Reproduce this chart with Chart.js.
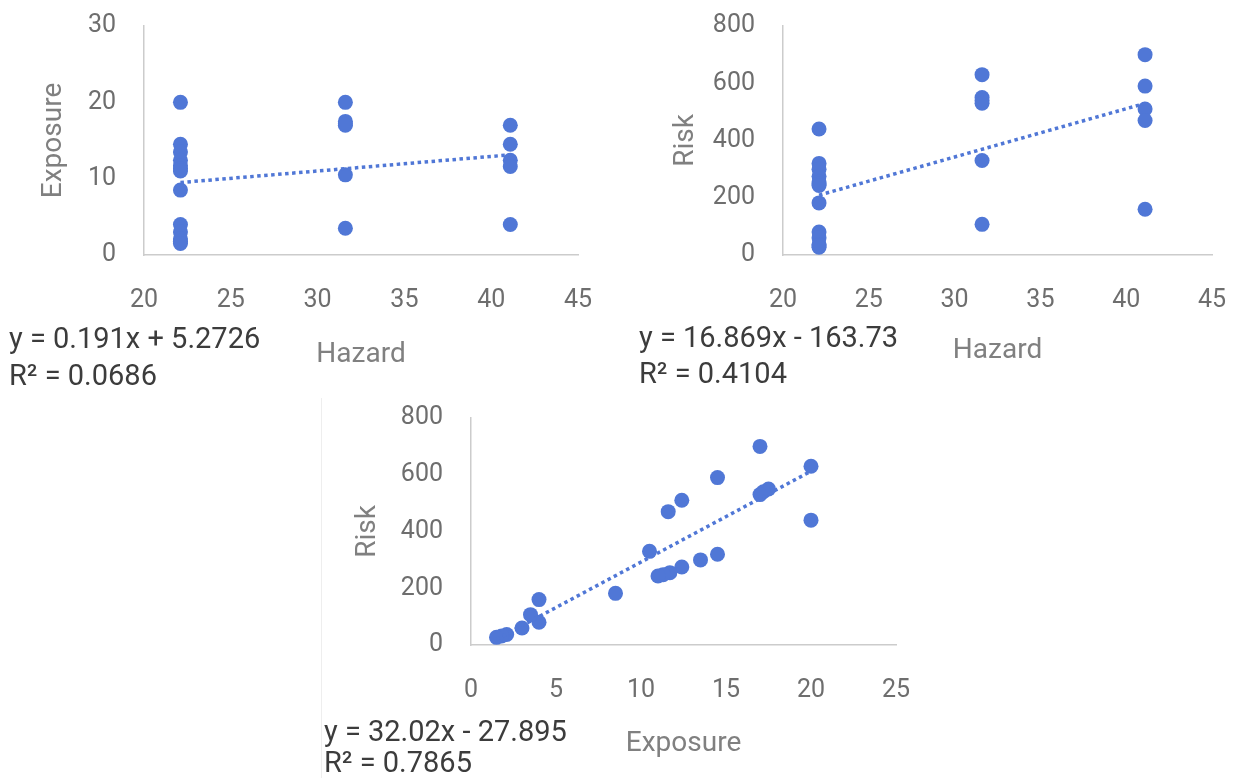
<!DOCTYPE html>
<html>
<head>
<meta charset="utf-8">
<script src="https://cdn.jsdelivr.net/npm/chart.js@4.4.1/dist/chart.umd.min.js"></script>
<style>
  html, body { margin: 0; padding: 0; background: #ffffff; }
  body { width: 1235px; height: 778px; position: relative; overflow: hidden; font-family: Roboto, "DejaVu Sans", sans-serif; }
  .box { position: absolute; }
  .eq { position: absolute; font-family: Roboto, sans-serif; font-size: 29px; color: #3c3c3c; white-space: nowrap; line-height: 32px; }
  .frame { position: absolute; background: #eeeeee; }
</style>
</head>
<body>
<div class="frame" style="left:321px;top:398px;width:1px;height:380px;"></div>
<div class="box" style="left:0px;top:0px;width:620px;height:400px;"><canvas id="c1" width="620" height="400"></canvas></div>
<div class="box" style="left:620px;top:0px;width:615px;height:400px;"><canvas id="c2" width="615" height="400"></canvas></div>
<div class="box" style="left:310px;top:395px;width:620px;height:383px;"><canvas id="c3" width="620" height="383"></canvas></div>
<div class="eq" id="eq1a" style="left:9px;top:322px;"></div>
<div class="eq" id="eq1b" style="left:9px;top:359px;"></div>
<div class="eq" id="eq2a" style="left:639px;top:321px;"></div>
<div class="eq" id="eq2b" style="left:639px;top:357px;"></div>
<div class="eq" id="eq3a" style="left:324px;top:715px;"></div>
<div class="eq" id="eq3b" style="left:324px;top:746px;"></div>
<script>
// ---- data (one entry per observation) ----
const hazard   = [22.1,22.1,22.1,22.1,22.1,22.1,22.1,22.1,22.1,22.1,22.1,22.1,22.1,
                  31.6,31.6,31.6,31.6,31.6,31.6,
                  41.1,41.1,41.1,41.1,41.1];
const exposure = [20,14.5,13.5,12.4,11.7,11.3,11,8.5,4,3,2.1,1.8,1.5,
                  20,17.5,17.2,17,10.5,3.5,
                  17,14.5,12.4,11.6,4];
const risk     = [440,320,300,275,255,248,243,182,80,60,37,32,27,
                  630,550,540,530,330,107,
                  700,590,510,470,160];

// ---- trendline coefficients (from the chart labels) ----
const trendSlopes     = [0.191, 16.869, 32.02];
const trendIntercepts = [5.2726, -163.73, -27.895];
const eqLabels = ['y = 0.191x + 5.2726', 'y = 16.869x - 163.73', 'y = 32.02x - 27.895'];
const r2Labels = ['R\u00B2 = 0.0686', 'R\u00B2 = 0.4104', 'R\u00B2 = 0.7865'];

// ---- axis titles / ticks ----
const xTitles = ['Hazard', 'Hazard', 'Exposure'];
const yTitles = ['Exposure', 'Risk', 'Risk'];
const xTickMin = [20, 20, 0], xTickMax = [45, 45, 25], xTickStep = [5, 5, 5];
const yTickMin = [0, 0, 0], yTickMax = [30, 800, 800], yTickStep = [10, 200, 200];

const BLUE = '#5077D6';
const AXIS = '#cccccc';
const TICK = '#6e6e6e';
const TITLE = '#808080';

function pairs(xs, ys) { return xs.map((x, i) => ({x: x, y: ys[i]})); }
function trend(xs, i) {
  const x0 = Math.min(...xs), x1 = Math.max(...xs);
  return [{x: x0, y: trendSlopes[i]*x0 + trendIntercepts[i]},
          {x: x1, y: trendSlopes[i]*x1 + trendIntercepts[i]}];
}

function makeChart(id, i, xs, ys, lay) {
  new Chart(document.getElementById(id), {
    type: 'scatter',
    data: {
      datasets: [
        { type: 'line', data: trend(xs, i), borderColor: BLUE, borderWidth: 3.5,
          borderDash: [3.5, 3.5], pointRadius: 0, fill: false, order: 0 },
        { data: pairs(xs, ys), backgroundColor: BLUE, borderColor: BLUE,
          pointRadius: 7.5, pointHoverRadius: 7.5, borderWidth: 0, order: 1 }
      ]
    },
    options: {
      responsive: false, animation: false,
      layout: { padding: { left: lay.pl, right: lay.pr, top: lay.pt, bottom: lay.pb } },
      plugins: { legend: { display: false }, tooltip: { enabled: false } },
      scales: {
        x: {
          type: 'linear', min: xTickMin[i], max: xTickMax[i],
          ticks: { stepSize: xTickStep[i], color: TICK, padding: 31,
                   font: { family: 'Roboto', size: 25 } },
          grid: { display: false, drawTicks: false },
          border: { display: true, color: AXIS, width: 1.5 },
          title: { display: true, text: xTitles[i], color: TITLE, padding: 0,
                   font: { family: 'Roboto', size: 28 } },
          afterFit: s => { s.height = lay.xh; s.paddingLeft = 0; s.paddingRight = 0; }
        },
        y: {
          type: 'linear', min: yTickMin[i], max: yTickMax[i],
          ticks: { stepSize: yTickStep[i], color: TICK, padding: 28,
                   font: { family: 'Roboto', size: 25 } },
          grid: { display: false, drawTicks: false },
          border: { display: true, color: AXIS, width: 1.5 },
          title: { display: true, text: yTitles[i], color: TITLE, padding: 0,
                   font: { family: 'Roboto', size: 28 } },
          afterFit: s => { s.width = lay.yw; s.paddingTop = 0; s.paddingBottom = 0; }
        }
      }
    }
  });
}

makeChart('c1', 0, hazard, exposure,  { pl: 37, yw: 107, pr: 42, pt: 26, xh: 117, pb: 28 });
makeChart('c2', 1, hazard, risk,      { pl: 49, yw: 114, pr: 23, pt: 26, xh: 113, pb: 32 });
makeChart('c3', 2, exposure, risk,    { pl: 41, yw: 120, pr: 34, pt: 23, xh: 116, pb: 17 });

['1','2','3'].forEach((k, i) => {
  document.getElementById('eq' + k + 'a').textContent = eqLabels[i];
  document.getElementById('eq' + k + 'b').textContent = r2Labels[i];
});
</script>
</body>
</html>
